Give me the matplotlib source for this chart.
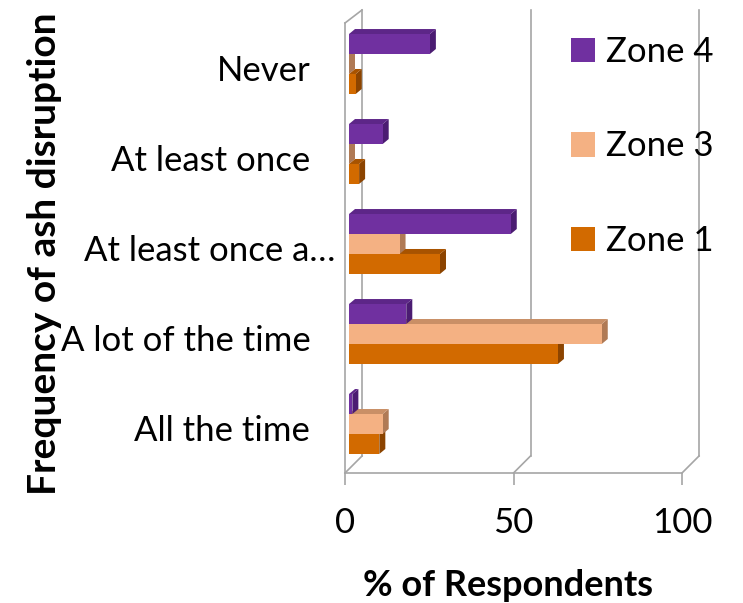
import numpy as np
import matplotlib
matplotlib.use("Agg")
import matplotlib.pyplot as plt
import matplotlib.transforms as mtrans
from matplotlib.patches import Polygon

plt.rcParams['font.family'] = ['Lato', 'DejaVu Sans']

# Categories listed top to bottom as shown
categories = ["Never", "At least once", "At least once a…", "A lot of the time", "All the time"]
zone4 = [24, 10, 48, 17, 1]
zone3 = [0, 0, 15, 75, 10]
zone1 = [2, 3, 27, 62, 9]

series = [("Zone 1", zone1, "#D26A00", "#A85300", "#8C4400"),
          ("Zone 3", zone3, "#F4B183", "#C98F66", "#B07A55"),
          ("Zone 4", zone4, "#7030A0", "#5D2688", "#4B1C72")]

fig = plt.figure(figsize=(7.43, 6.03), dpi=100)
W, H = 743, 603
ax = fig.add_axes([345 / W, 1 - 473 / H, 337 / W, 450 / H])
ax.set_xlim(0, 100)
ax.set_ylim(-0.5, 4.5)

# pixel -> data unit helpers (axes box is fixed)
ux = 337 / 100.0
uy = 450 / 5.0
def px(dx):
    return dx / ux
def py(dy):
    return dy / uy

grid_c = "#A6A6A6"
lw = 1.2

# back wall and floor edges of the 3-D box
back_dx = px(17)
back_bot = -0.5 + py(17)
back_top = 4.5 + py(13)
for xv in [0, 50, 100]:
    ax.plot([xv + back_dx, xv + back_dx], [back_bot, back_top], color=grid_c, lw=lw, clip_on=False, zorder=1)
    ax.plot([xv, xv + back_dx], [-0.5, back_bot], color=grid_c, lw=lw, clip_on=False, zorder=1)
ax.plot([0, back_dx], [4.5, back_top], color=grid_c, lw=lw, clip_on=False, zorder=1)

y = np.arange(len(categories))[::-1]
bh = 0.222
offs = {"Zone 1": -bh, "Zone 3": 0.0, "Zone 4": bh}
plane_dx, plane_dy = px(4), py(4)
depth_dx, depth_dy = px(6), py(5)

handles = {}
for z, (name, vals, face, top, side) in enumerate(series):
    yy = y + offs[name] + plane_dy
    bars = ax.barh(yy, vals, height=bh, left=plane_dx, color=face, zorder=3 + z, label=name)
    handles[name] = bars
    for v, yc in zip(vals, yy):
        x1 = plane_dx + v
        y0, y1 = yc - bh / 2, yc + bh / 2
        ax.add_patch(Polygon([(x1, y0), (x1 + depth_dx, y0 + depth_dy),
                              (x1 + depth_dx, y1 + depth_dy), (x1, y1)],
                             closed=True, facecolor=side, edgecolor="none",
                             zorder=2.9 + z, clip_on=False))
        ax.add_patch(Polygon([(plane_dx, y1), (x1, y1), (x1 + depth_dx, y1 + depth_dy),
                              (plane_dx + depth_dx, y1 + depth_dy)],
                             closed=True, facecolor=top, edgecolor="none",
                             zorder=2.9 + z, clip_on=False))

for s in ["top", "right"]:
    ax.spines[s].set_visible(False)
for s in ["left", "bottom"]:
    ax.spines[s].set_color(grid_c)
    ax.spines[s].set_linewidth(lw)

ax.set_xticks([0, 50, 100])
ax.set_xticklabels(["0", "50", "100"], fontsize=25)
ax.tick_params(axis="x", direction="out", length=8.6, width=lw, color=grid_c, pad=16)
ax.set_yticks(y)
ax.set_yticklabels(categories, fontsize=25)
ax.tick_params(axis="y", length=0, pad=25)

# the truncated label sits further right, close to the wall
for lab in ax.get_yticklabels():
    if lab.get_text().endswith("…"):
        lab.set_transform(lab.get_transform() +
                          mtrans.ScaledTranslation(0.25, 0, fig.dpi_scale_trans))

fig.text(45 / W, 1 - 254 / H, "Frequency of ash disruption", rotation=90,
         fontsize=28, fontweight="bold", ha="center", va="center")
fig.text(508 / W, 1 - 585 / H, "% of Respondents", fontsize=26,
         fontweight="bold", ha="center", va="center")

order = ["Zone 4", "Zone 3", "Zone 1"]
fig.legend([handles[n] for n in order], order, loc="upper left",
           bbox_to_anchor=(571 / W, 1 - 36 / H), frameon=False, fontsize=25,
           handlelength=0.7, handleheight=0.7, handletextpad=0.3,
           labelspacing=1.8, borderpad=0, borderaxespad=0)

fig.savefig("out.png", dpi=100)
